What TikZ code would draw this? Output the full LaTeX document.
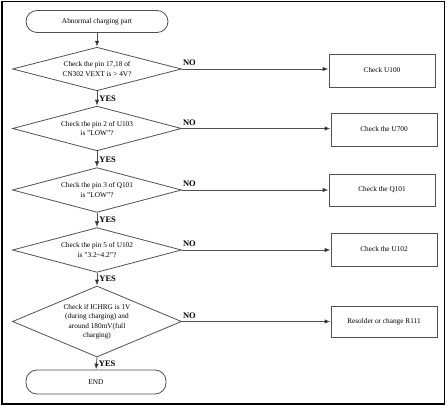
\documentclass[tikz,border=0pt]{standalone}
\usepackage{fontspec}
\setmainfont{Liberation Serif}
\usetikzlibrary{shapes.geometric,arrows.meta}
\definecolor{linegray}{HTML}{505050}
\begin{document}
\begin{tikzpicture}[x=1pt,y=-1pt,
  every node/.style={font=\fontsize{7.3}{9.5}\selectfont, inner sep=0pt},
  term/.style={draw=linegray, rounded corners=11pt, line width=0.8pt, minimum width=142pt, minimum height=22pt},
  dec/.style={draw=linegray, shape=diamond, aspect=2.4, line width=0.8pt, align=center, minimum width=169pt},
  act/.style={draw=linegray, line width=0.8pt, minimum width=106pt, minimum height=33pt},
  flow/.style={draw=linegray, line width=0.8pt, -{Latex[length=6pt,width=4.5pt,fill=black]}},
  lab/.style={font=\bfseries\fontsize{8.5}{10}\selectfont}
]
\useasboundingbox (0,0) rectangle (447,406);
\draw[line width=1.5pt] (2,1.5) rectangle (444.5,404);

\node[term] (start) at (97,21.5) {Abnormal charging part};
\node[dec, minimum height=42pt] (d1) at (97,69) {Check the pin 17,18 of\\CN302 VEXT is > 4V?};
\node[dec, minimum height=43pt] (d2) at (97,128.5) {Check the pin 2 of U103\\is "LOW"?};
\node[dec, minimum height=44pt] (d3) at (97,190) {Check the pin 3 of Q101\\is "LOW"?};
\node[dec, minimum height=42pt] (d4) at (97,250) {Check the pin 5 of U102\\is "3.2\textasciitilde4.2"?};
\node[dec, minimum height=71pt] (d5) at (97,321.5) {Check if ICHRG is 1V\\(during charging) and\\around 180mV(full\\charging)};
\node[term, minimum width=140pt, minimum height=24pt] (end) at (96,382) {END};

\node[act] (b1) at (382,70.5) {Check U100};
\node[act] (b2) at (384,129.5) {Check the U700};
\node[act, minimum height=32pt] (b3) at (382,190) {Check the Q101};
\node[act] (b4) at (384,249.5) {Check the U102};
\node[act, minimum height=31pt] (b5) at (384,321.5) {Resolder or change R111};

\draw[flow] (start) -- (d1);
\foreach \a/\b in {d1/d2,d2/d3,d3/d4,d4/d5,d5/end}{
  \draw[flow] (\a.south) -- (\b.north) node[lab, midway, anchor=west, xshift=2pt] {YES};
}
\foreach \a/\b in {d1/b1,d2/b2,d3/b3,d4/b4,d5/b5}{
  \draw[flow] (\a.east) -- (\a.east -| \b.west);
  \node[lab, anchor=south west] at ([xshift=1pt,yshift=3pt]\a.east) {NO};
}
\end{tikzpicture}
\end{document}
